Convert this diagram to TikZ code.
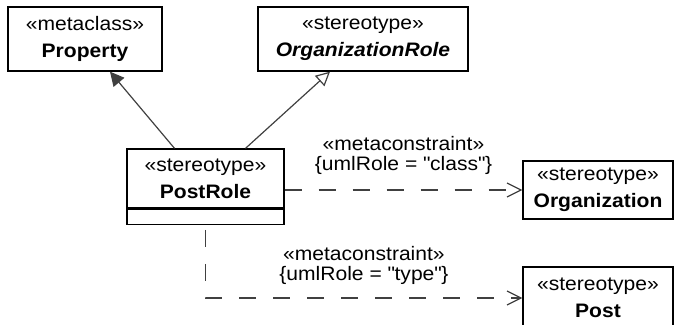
\documentclass[tikz,border=0pt]{standalone}
\usepackage{fontspec}
\setmainfont{Liberation Sans}[FakeStretch=1.08]
\usetikzlibrary{arrows.meta,positioning}
\definecolor{linegray}{RGB}{64,64,64}

\begin{document}
\begin{tikzpicture}[x=1pt, y=-1pt,
  cls/.style={draw, rectangle, line width=1.3pt, minimum height=64pt, inner sep=0pt, align=center, font=\fontsize{19.5}{27}\selectfont},
  lbl/.style={inner sep=0pt, align=center, font=\fontsize{19.5}{20}\selectfont},
  gen/.style={draw=linegray, line width=1.2pt, -{Triangle[length=14pt,width=14pt,fill=linegray]}},
  real/.style={draw=linegray, line width=1.2pt, -{Triangle[open,length=14pt,width=14pt,fill=white]}},
  dep/.style={draw=linegray, line width=1.2pt, dash pattern=on 17pt off 17pt, -{Straight Barb[length=14pt,width=14pt]}}
]
\useasboundingbox (0,0) rectangle (674,324);

\node[cls, minimum width=154pt] (property) at (85,39) {«metaclass»\\\textbf{Property}};
\node[cls, minimum width=210pt] (orgrole) at (363,39) {«stereotype»\\\textbf{\textit{OrganizationRole}}};
\node[cls, minimum width=157pt, minimum height=59pt] (postrole) at (205.5,178.5) {«stereotype»\\\textbf{PostRole}};
\node[cls, minimum width=157pt, minimum height=15pt, below=0pt of postrole] (postattr) {};
\node[cls, minimum width=150pt, minimum height=58pt] (organization) at (598,190) {«stereotype»\\\textbf{Organization}};
\node[cls, minimum width=150pt, minimum height=62pt] (post) at (598,298) {«stereotype»\\\textbf{Post}};

\draw[gen] ([xshift=-31pt]postrole.north) -- ([xshift=25pt]property.south);
\draw[real] ([xshift=40pt]postrole.north) -- ([xshift=-33pt]orgrole.south);
\draw[dep] (postrole.east |- organization.west) -- node[lbl, above=15pt] {«metaconstraint»\\\{umlRole = \textquotedbl class\textquotedbl\}} (organization.west);
\draw[dep, dash phase=29pt] (postattr.south) |- node[lbl, pos=0.75, above=13pt] {«metaconstraint»\\\{umlRole = \textquotedbl type\textquotedbl\}} (post.west);
\end{tikzpicture}
\end{document}
